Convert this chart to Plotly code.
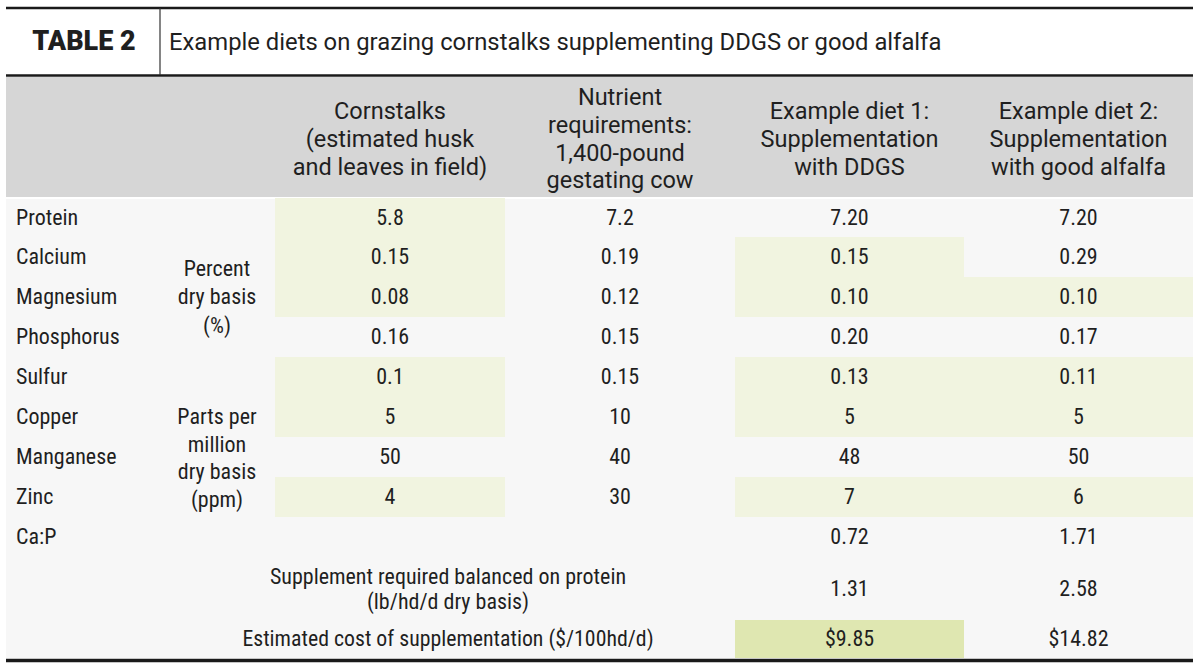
import plotly.graph_objects as go

# ---------------- data ----------------
title_tag = "TABLE 2"
title_text = "Example diets on grazing cornstalks supplementing DDGS or good alfalfa"

column_headers = [
    ["Cornstalks", "(estimated husk", "and leaves in field)"],
    ["Nutrient", "requirements:", "1,400-pound", "gestating cow"],
    ["Example diet 1:", "Supplementation", "with DDGS"],
    ["Example diet 2:", "Supplementation", "with good alfalfa"],
]

nutrients = ["Protein", "Calcium", "Magnesium", "Phosphorus",
             "Sulfur", "Copper", "Manganese", "Zinc"]
unit_percent = ["Percent", "dry basis", "(%)"]
unit_ppm = ["Parts per", "million", "dry basis", "(ppm)"]

cornstalks = ["5.8", "0.15", "0.08", "0.16", "0.1", "5", "50", "4"]
requirements = ["7.2", "0.19", "0.12", "0.15", "0.15", "10", "40", "30"]
diet1 = ["7.20", "0.15", "0.10", "0.20", "0.13", "5", "48", "7"]
diet2 = ["7.20", "0.29", "0.10", "0.17", "0.11", "5", "50", "6"]

ratio_label = "Ca:P"
ca_p_ratio = ["0.72", "1.71"]
supplement_label = ["Supplement required balanced on protein", "(lb/hd/d dry basis)"]
supplement_amount = ["1.31", "2.58"]
cost_label = "Estimated cost of supplementation ($/100hd/d)"
cost = ["$9.85", "$14.82"]

# ---------------- layout / style ----------------
W, H = 1200, 668
X_LEFT, X_RIGHT = 6, 1193
COL_EDGES = [275, 505, 735, 964, 1193]
ROW_EDGES = [198, 237, 277, 317, 357, 397, 437, 477, 517, 557, 620, 658]
col_c = [(a + b) / 2 for a, b in zip(COL_EDGES[:-1], COL_EDGES[1:])]
row_c = [(a + b) / 2 for a, b in zip(ROW_EDGES[:-1], ROW_EDGES[1:])]
DY = 1.5  # baseline nudge for body text

TEXT = "#1f1f1f"
HEAD_BG = "#d6d6d6"
BODY_BG = "#f7f7f7"
LIGHT_GREEN = "#f1f4e0"
DARK_GREEN = "#dfe7b1"
BODY_FONT = "Liberation Sans Narrow, Arial Narrow, Roboto Condensed, DejaVu Sans Condensed, sans-serif"
HEAD_FONT = "Roboto, Open Sans, sans-serif"

# ---------------- highlight matrix (value below requirement / cheapest) ----------------
series = [cornstalks, requirements, diet1, diet2]
z = []
for i in range(len(nutrients)):
    row = []
    for j, s in enumerate(series):
        if j != 1 and float(s[i]) < float(requirements[i]):
            row.append(1)
        else:
            row.append(None)
    z.append(row)
z.append([None] * 4)  # Ca:P
z.append([None] * 4)  # supplement
cost_vals = [float(c.replace("$", "")) for c in cost]
z.append([None, None] + [2 if v == min(cost_vals) else None for v in cost_vals])

fig = go.Figure()

fig.add_trace(go.Heatmap(
    x=COL_EDGES, y=ROW_EDGES, z=z,
    colorscale=[[0, LIGHT_GREEN], [0.5, LIGHT_GREEN], [0.5, DARK_GREEN], [1, DARK_GREEN]],
    zmin=1, zmax=2, showscale=False, hoverinfo="skip", xgap=0, ygap=0,
))


def add_text(xs, ys, texts, font_family, size, pos="middle center", weight="normal", dy=0.0):
    fig.add_trace(go.Scatter(
        x=xs, y=[y + dy for y in ys], text=texts, mode="text", textposition=pos,
        textfont=dict(family=font_family, size=size, color=TEXT, weight=weight),
        hoverinfo="skip", showlegend=False,
    ))


# title row
add_text([84], [42], [title_tag], HEAD_FONT, 27, weight=900, dy=1.5)
add_text([169], [43], [title_text], HEAD_FONT, 23.8, pos="middle right", dy=1)

# column headers
HEAD_MID, HEAD_STEP = 141, 27.7
for cx, lines in zip(col_c, column_headers):
    n = len(lines)
    ys = [HEAD_MID + (k - (n - 1) / 2) * HEAD_STEP for k in range(n)]
    add_text([cx] * n, ys, lines, HEAD_FONT, 23.5)

# nutrient labels
labels = nutrients + [ratio_label]
add_text([16] * len(labels), row_c[:len(labels)], labels, BODY_FONT, 22, pos="middle right", dy=DY)

# unit labels
UNIT_X = 217
n = len(unit_percent)
add_text([UNIT_X] * n, [row_c[2] + (k - (n - 1) / 2) * 28.5 for k in range(n)], unit_percent, BODY_FONT, 22, dy=DY)
n = len(unit_ppm)
add_text([UNIT_X] * n, [row_c[6] + 1.5 + (k - (n - 1) / 2) * 27.5 for k in range(n)], unit_ppm, BODY_FONT, 22, dy=DY)

# values
for cx, s in zip(col_c, series):
    add_text([cx] * len(s), row_c[:len(s)], s, BODY_FONT, 22, dy=DY)

diet_x = col_c[2:]
add_text(diet_x, [row_c[8]] * 2, ca_p_ratio, BODY_FONT, 22, dy=DY)
add_text(diet_x, [row_c[9]] * 2, supplement_amount, BODY_FONT, 22, dy=DY)
add_text(diet_x, [row_c[10]] * 2, cost, BODY_FONT, 22, dy=DY)

LABEL_X = 448
add_text([LABEL_X] * 2, [row_c[9] - 11.5, row_c[9] + 13], supplement_label, BODY_FONT, 22, dy=DY)
add_text([LABEL_X], [row_c[10]], [cost_label], BODY_FONT, 21.8, dy=DY)

shapes = [
    dict(type="rect", x0=X_LEFT, x1=X_RIGHT, y0=77, y1=197, fillcolor=HEAD_BG, line_width=0, layer="below"),
    dict(type="rect", x0=X_LEFT, x1=X_RIGHT, y0=199, y1=658, fillcolor=BODY_BG, line_width=0, layer="below"),
    dict(type="line", x0=X_LEFT, x1=X_RIGHT, y0=8, y1=8, line=dict(color="#1a1a1a", width=2.5)),
    dict(type="line", x0=X_LEFT, x1=X_RIGHT, y0=75.5, y1=75.5, line=dict(color="#1a1a1a", width=2.5)),
    dict(type="line", x0=160, x1=160, y0=8, y1=75, line=dict(color="#333333", width=1.2)),
    dict(type="line", x0=X_LEFT, x1=X_RIGHT, y0=660.5, y1=660.5, line=dict(color="#1a1a1a", width=3.5)),
]

fig.update_layout(
    width=W, height=H,
    margin=dict(l=0, r=0, t=0, b=0),
    paper_bgcolor="white", plot_bgcolor="white",
    showlegend=False,
    shapes=shapes,
    xaxis=dict(range=[0, W], visible=False, fixedrange=True),
    yaxis=dict(range=[H, 0], visible=False, fixedrange=True),
)

fig.write_html(
    "out.html",
    config={"displayModeBar": False},
    post_script="document.body.style.margin='0';document.body.style.padding='0';",
)
